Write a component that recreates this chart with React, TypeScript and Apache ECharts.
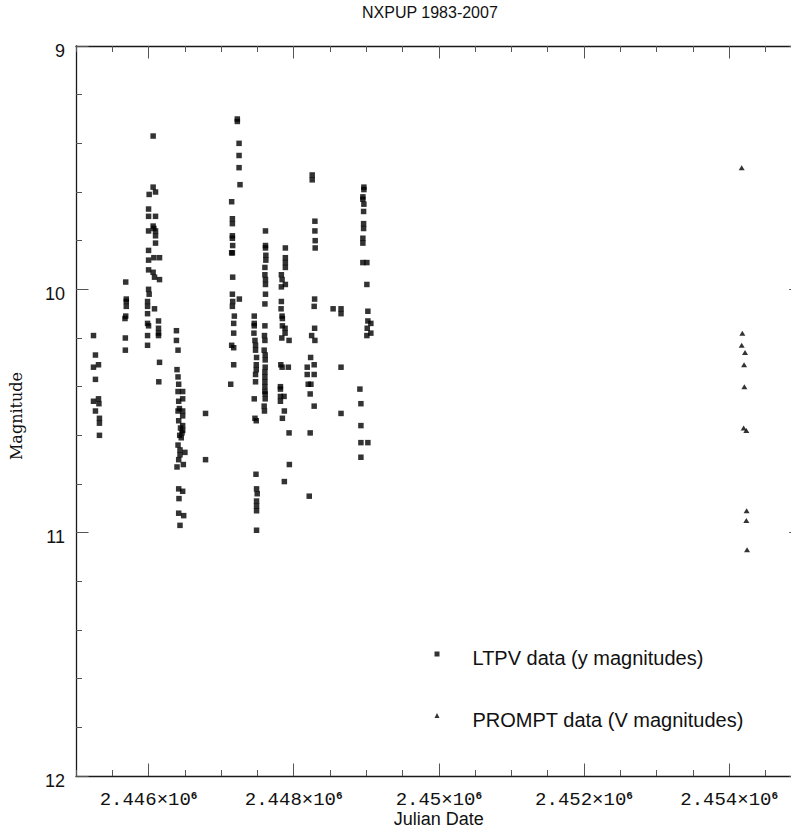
import { useEffect, useRef } from "react";
import * as echarts from "echarts";

// LTPV photometry: [Julian Date, y magnitude], one array per observing season
const ltpvSeasonA = [
  [2445241, 10.19], [2445268, 10.27], [2445241, 10.32], [2445310, 10.31], [2445268, 10.37],
  [2445241, 10.46], [2445310, 10.45], [2445316, 10.47], [2445268, 10.5], [2445323, 10.53],
  [2445323, 10.55], [2445323, 10.6],
];
const ltpvSeasonB = [
  [2445685, 9.97], [2445693, 10.04], [2445693, 10.05], [2445693, 10.07], [2445685, 10.11],
  [2445675, 10.12], [2445680, 10.2], [2445680, 10.25],
];
const ltpvSeasonC = [
  [2446063, 9.37], [2446063, 9.58], [2446096, 9.6], [2446008, 9.61], [2446000, 9.67],
  [2446000, 9.7], [2446096, 9.7], [2446063, 9.74], [2446073, 9.75], [2446000, 9.76],
  [2446096, 9.76], [2446096, 9.78], [2446096, 9.81], [2446000, 9.84], [2446073, 9.87],
  [2446151, 9.87], [2446000, 9.88], [2446000, 9.92], [2446063, 9.93], [2446082, 9.95],
  [2446151, 9.96], [2446000, 10.0], [2446008, 10.02], [2445986, 10.05], [2445986, 10.07],
  [2446082, 10.08], [2445986, 10.1], [2446137, 10.13], [2445986, 10.14], [2446000, 10.15],
  [2446137, 10.16], [2446137, 10.18], [2446137, 10.19], [2445986, 10.19], [2445986, 10.23],
  [2446151, 10.3], [2446141, 10.38],
];
const ltpvSeasonD = [
  [2446384, 10.17], [2446384, 10.21], [2446406, 10.25], [2446392, 10.33], [2446406, 10.36],
  [2446415, 10.39], [2446406, 10.42], [2446470, 10.42], [2446470, 10.45], [2446415, 10.46],
  [2446425, 10.49], [2446406, 10.5], [2446470, 10.5], [2446470, 10.52], [2446415, 10.54],
  [2446470, 10.56], [2446440, 10.57], [2446470, 10.58], [2446460, 10.59], [2446429, 10.6],
  [2446450, 10.61], [2446406, 10.64], [2446433, 10.66], [2446501, 10.67], [2446433, 10.68],
  [2446415, 10.7], [2446479, 10.72], [2446392, 10.73], [2446415, 10.82], [2446470, 10.83],
  [2446419, 10.86], [2446415, 10.92], [2446484, 10.93], [2446433, 10.97],
];
const ltpvSeasonE = [
  [2446785, 10.51], [2446785, 10.7],
];
const ltpvSeasonF = [
  [2447223, 9.3], [2447223, 9.31], [2447247, 9.4], [2447247, 9.45], [2447247, 9.5],
  [2447260, 9.57], [2447145, 9.64], [2447155, 9.71], [2447155, 9.73], [2447155, 9.78],
  [2447155, 9.79], [2447159, 9.82], [2447145, 9.85], [2447155, 9.85], [2447159, 9.95],
  [2447155, 10.02], [2447251, 10.04], [2447159, 10.05], [2447155, 10.07], [2447182, 10.11],
  [2447173, 10.14], [2447173, 10.18], [2447145, 10.23], [2447173, 10.24], [2447173, 10.31],
  [2447132, 10.39],
];
const ltpvSeasonG = [
  [2447456, 10.11], [2447456, 10.14], [2447456, 10.15], [2447452, 10.18], [2447466, 10.21],
  [2447474, 10.23], [2447474, 10.25], [2447488, 10.28], [2447484, 10.31], [2447484, 10.33],
  [2447474, 10.35], [2447474, 10.38], [2447456, 10.45], [2447466, 10.53], [2447484, 10.54],
  [2447480, 10.76], [2447488, 10.82], [2447497, 10.84], [2447488, 10.87], [2447488, 10.89],
  [2447488, 10.91], [2447488, 10.99],
  [2447611, 9.76], [2447611, 9.82], [2447611, 9.83], [2447616, 9.86], [2447616, 9.88],
  [2447603, 9.91], [2447603, 9.94], [2447611, 9.96], [2447611, 9.98], [2447611, 10.02],
  [2447603, 10.06], [2447603, 10.15], [2447597, 10.19], [2447603, 10.21], [2447593, 10.25],
  [2447607, 10.27], [2447607, 10.29], [2447607, 10.32], [2447603, 10.34], [2447603, 10.36],
  [2447603, 10.38], [2447603, 10.4], [2447603, 10.42], [2447607, 10.43], [2447607, 10.45],
  [2447593, 10.48], [2447597, 10.5],
];
const ltpvSeasonH = [
  [2447885, 9.83], [2447885, 9.87], [2447885, 9.89], [2447885, 9.91], [2447830, 9.94],
  [2447840, 9.96], [2447885, 9.98], [2447830, 9.99], [2447830, 10.05], [2447826, 10.08],
  [2447840, 10.11], [2447844, 10.12], [2447844, 10.15], [2447881, 10.16], [2447881, 10.18],
  [2447836, 10.2], [2447936, 10.21], [2447822, 10.31], [2447840, 10.32], [2447926, 10.32],
  [2447817, 10.4], [2447817, 10.41], [2447817, 10.44], [2447867, 10.44], [2447817, 10.46],
  [2447871, 10.5], [2447844, 10.53], [2447936, 10.59], [2447940, 10.72], [2447871, 10.79],
];
const ltpvSeasonI = [
  [2448255, 9.53], [2448255, 9.55], [2448292, 9.72], [2448292, 9.76], [2448296, 9.8],
  [2448296, 9.83], [2448288, 10.04], [2448282, 10.07], [2448288, 10.16], [2448247, 10.19],
  [2448292, 10.21], [2448233, 10.28], [2448282, 10.31], [2448186, 10.32], [2448186, 10.35],
  [2448282, 10.35], [2448200, 10.39], [2448237, 10.39], [2448227, 10.43], [2448282, 10.48],
  [2448227, 10.59], [2448214, 10.85],
];
const ltpvSeasonJ = [
  [2448543, 10.08], [2448652, 10.08], [2448652, 10.1], [2448652, 10.32], [2448652, 10.51],
];
const ltpvSeasonK = [
  [2448967, 9.58], [2448967, 9.59], [2448953, 9.62], [2448953, 9.63], [2448967, 9.65],
  [2448963, 9.68], [2448963, 9.73], [2448963, 9.75], [2448953, 9.79], [2448953, 9.81],
  [2448953, 9.89], [2449008, 9.89], [2449008, 9.98], [2449022, 10.09], [2449022, 10.13],
  [2449063, 10.14], [2449013, 10.16], [2449063, 10.18], [2449008, 10.19], [2448912, 10.41],
  [2448926, 10.47], [2448926, 10.56], [2448926, 10.63], [2449022, 10.63], [2448926, 10.69],
];

// PROMPT photometry: [Julian Date, V magnitude]
const promptData = [
  [2454173, 9.5], [2454182, 10.18], [2454173, 10.23], [2454219, 10.26], [2454206, 10.31],
  [2454210, 10.4], [2454200, 10.57], [2454237, 10.58], [2454241, 10.91], [2454237, 10.95],
  [2454247, 11.07],
];

const ltpvName = "LTPV data (y magnitudes)";
const promptName = "PROMPT data (V magnitudes)";
const chartTitle = "NXPUP 1983-2007";

// Axis ranges and tick positions
const jdRange = [2445000, 2455000];
const jdMajorTicks = [2446000, 2448000, 2450000, 2452000, 2454000];
const jdMinorStep = 500;
const magRange = [9, 12];
const magMajorStep = 1;

const ltpvData = [
  ...ltpvSeasonA, ...ltpvSeasonB, ...ltpvSeasonC, ...ltpvSeasonD, ...ltpvSeasonE, ...ltpvSeasonF,
  ...ltpvSeasonG, ...ltpvSeasonH, ...ltpvSeasonI, ...ltpvSeasonJ, ...ltpvSeasonK,
];

const frameLine = { show: true, onZero: false, lineStyle: { color: "#1a1a1a", width: 1.3 } };
const tickLine = { color: "#555", width: 1 };
const MAJOR_TICK = 12.5;
const MINOR_TICK = 6;

function jdLabel(v: number) {
  return `{b|${v / 1e6}×10}{s|6}`;
}

function buildOption() {
  const jdAxisBase = {
    type: "value",
    min: jdRange[0],
    max: jdRange[1],
    interval: jdMinorStep,
    splitLine: { show: false },
  };
  const minorX = (position: string, withLabels: boolean) => ({
    ...jdAxisBase,
    position,
    axisLine: frameLine,
    axisTick: { show: true, inside: true, length: MINOR_TICK, lineStyle: tickLine },
    axisLabel: withLabels
      ? {
          show: true,
          customValues: jdMajorTicks,
          formatter: jdLabel,
          margin: 14,
          rich: {
            b: { fontFamily: "Liberation Mono", fontSize: 19, color: "#111" },
            s: { fontFamily: "Liberation Mono", fontSize: 11, fontWeight: "bold", color: "#111", verticalAlign: "top" },
          },
        }
      : { show: false },
  });
  const majorX = (position: string) => ({
    ...jdAxisBase,
    position,
    axisLine: { show: false },
    axisTick: { show: true, inside: true, length: MAJOR_TICK, customValues: jdMajorTicks, lineStyle: tickLine },
    axisLabel: { show: false },
  });
  const magAxis = (position: string, withLabels: boolean) => ({
    type: "value",
    position,
    inverse: true,
    min: magRange[0],
    max: magRange[1],
    interval: magMajorStep,
    splitLine: { show: false },
    axisLine: frameLine,
    axisTick: { show: true, inside: true, length: MAJOR_TICK, lineStyle: tickLine },
    minorTick: { show: true, splitNumber: 5, length: MINOR_TICK, lineStyle: tickLine },
    axisLabel: withLabels
      ? {
          show: true,
          fontFamily: "Liberation Sans",
          fontSize: 18,
          color: "#111",
          margin: 11,
          verticalAlign: "top",
          lineHeight: 9,
        }
      : { show: false },
    ...(withLabels
      ? {
          name: "Magnitude",
          nameLocation: "middle",
          nameRotate: 90,
          nameGap: 52,
          nameTextStyle: { fontFamily: "DejaVu Serif", fontSize: 16, color: "#111", padding: [0, 10, 0, 0] },
        }
      : {}),
  });

  const legendText = {
    fontFamily: "Liberation Sans",
    fontSize: 20,
    color: "#111",
    padding: [0, 0, 0, 28],
    rich: {
      t: { fontFamily: "Liberation Sans", fontSize: 20, color: "#111", lineHeight: 20, padding: [8, 0, 0, 0] },
    },
  };
  const legendEntry = (name: string, top: number) => ({
    data: [name],
    left: 434.5,
    top,
    padding: 0,
    itemWidth: 5,
    itemHeight: 5,
    selectedMode: false,
    formatter: (n: string) => `{t|${n}}`,
    textStyle: legendText,
  });

  return {
    animation: false,
    backgroundColor: "#fff",
    title: {
      text: chartTitle,
      left: 362,
      top: 4,
      padding: 0,
      textStyle: { fontFamily: "Liberation Sans", fontSize: 16, fontWeight: "normal", color: "#111" },
    },
    grid: { left: 71.7, top: 46, width: 730, height: 730, containLabel: false },
    legend: [legendEntry(ltpvName, 640), legendEntry(promptName, 701.5)],
    xAxis: [
      {
        ...minorX("bottom", true),
        name: "Julian Date",
        nameLocation: "middle",
        nameGap: 34,
        nameMoveOverlap: false,
        nameTextStyle: { fontFamily: "Liberation Sans", fontSize: 18, color: "#111" },
      },
      majorX("bottom"),
      minorX("top", false),
      majorX("top"),
    ],
    yAxis: [magAxis("left", true), magAxis("right", false)],
    series: [
      {
        name: ltpvName,
        type: "scatter",
        xAxisIndex: 0,
        yAxisIndex: 0,
        symbol: "rect",
        symbolSize: 5.5,
        itemStyle: { color: "#000" },
        data: ltpvData,
      },
      {
        name: promptName,
        type: "scatter",
        xAxisIndex: 0,
        yAxisIndex: 0,
        symbol: "triangle",
        symbolSize: [6, 5],
        itemStyle: { color: "#000" },
        data: promptData,
      },
    ],
  };
}

export default function App() {
  const ref = useRef<HTMLDivElement>(null);
  useEffect(() => {
    if (!ref.current) return;
    const chart = echarts.init(ref.current, undefined, { renderer: "svg" });
    chart.setOption(buildOption() as any);
    return () => chart.dispose();
  }, []);
  return (
    <div
      style={{
        position: "fixed",
        left: 0,
        top: 0,
        width: 791,
        height: 836,
        overflow: "hidden",
        background: "#fff",
      }}
    >
      <div ref={ref} style={{ width: 820, height: 836 }} />
    </div>
  );
}
